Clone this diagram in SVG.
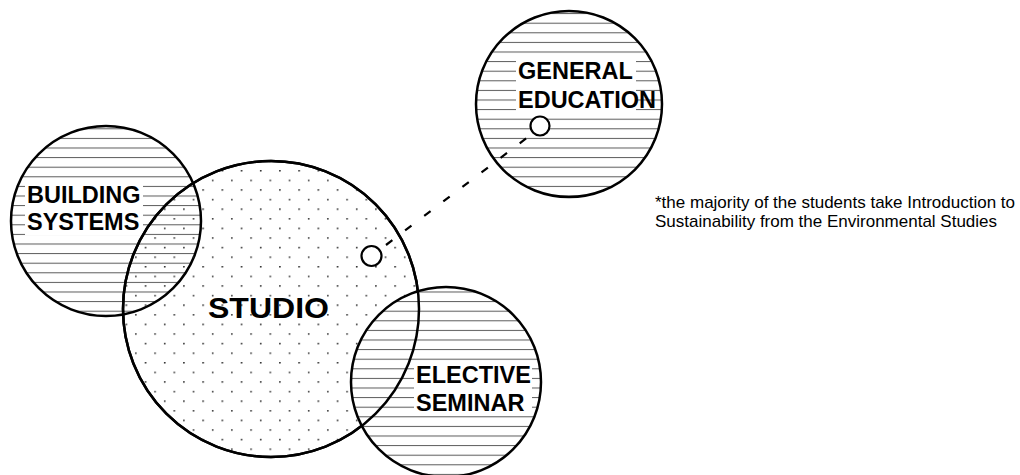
<svg xmlns="http://www.w3.org/2000/svg" xmlns:xlink="http://www.w3.org/1999/xlink" width="1020" height="475" viewBox="0 0 1020 475">
  <defs>
    <!-- horizontal rule fill -->
    <pattern id="hatch" patternUnits="userSpaceOnUse" x="0" y="3.5" width="20" height="9.6">
      <line x1="0" y1="0.5" x2="20" y2="0.5" stroke="#5a5a5a" stroke-width="1"/>
    </pattern>
    <!-- staggered dot fill -->
    <pattern id="dots" patternUnits="userSpaceOnUse" x="10.3" y="16.4" width="19.2" height="19.2">
      <circle cx="0.8" cy="0.8" r="0.9" fill="#222"/>
      <circle cx="10.4" cy="10.4" r="0.9" fill="#222"/>
    </pattern>
    <style>
      .ring { fill: none; stroke: #000; stroke-width: 2.5; }
      .label { font-family: "Liberation Sans", Arial, sans-serif; font-weight: bold; font-size: 23.5px; fill: #000; }
      .big { font-size: 30px; }
      .note { font-family: "Liberation Sans", Arial, sans-serif; font-size: 17px; fill: #000; }
      .pin { fill: #fff; stroke: #000; stroke-width: 2.2; }
      .link { fill: none; stroke: #000; stroke-width: 2.2; stroke-dasharray: 8 16; }
      .bg { fill: #fff; }
    </style>
  </defs>

  <rect width="1020" height="475" fill="#fff"/>

  <g id="building-systems">
    <circle cx="106" cy="221" r="95" fill="url(#hatch)"/>
    <rect class="bg" x="25" y="182" width="118" height="53"/>
    <text class="label" x="27" y="203">BUILDING</text>
    <text class="label" x="27" y="230">SYSTEMS</text>
    <circle class="ring" cx="106" cy="221" r="95"/>
  </g>

  <g id="studio">
    <circle cx="271" cy="309" r="148" fill="url(#dots)"/>
    <text class="label big" x="208" y="318" textLength="121" lengthAdjust="spacingAndGlyphs">STUDIO</text>
    <circle id="studio-ring" class="ring" cx="271" cy="309" r="148"/>
  </g>

  <g id="elective-seminar">
    <circle cx="446" cy="382" r="95" fill="#fff"/>
    <circle cx="446" cy="382" r="95" fill="url(#hatch)"/>
    <rect class="bg" x="414" y="363" width="118" height="52"/>
    <text class="label" x="416" y="383">ELECTIVE</text>
    <text class="label" x="416" y="411">SEMINAR</text>
    <circle class="ring" cx="446" cy="382" r="95"/>
    <!-- studio outline stays visible across the overlap -->
    <use xlink:href="#studio-ring"/>
  </g>

  <g id="general-education">
    <circle cx="569" cy="104" r="93" fill="url(#hatch)"/>
    <rect class="bg" x="516" y="60" width="120" height="52"/>
    <text class="label" x="518" y="79">GENERAL</text>
    <text class="label" x="518" y="108">EDUCATION</text>
    <circle class="ring" cx="569" cy="104" r="93"/>
  </g>

  <g id="connectors">
    <line class="link" x1="386" y1="245" x2="528" y2="137"/>
    <circle class="pin" cx="371.5" cy="256" r="10"/>
    <circle class="pin" cx="540" cy="126" r="9.5"/>
  </g>

  <g id="footnote">
    <text class="note" x="655" y="208">*the majority of the students take Introduction to</text>
    <text class="note" x="655" y="227">Sustainability from the Environmental Studies</text>
  </g>
</svg>
